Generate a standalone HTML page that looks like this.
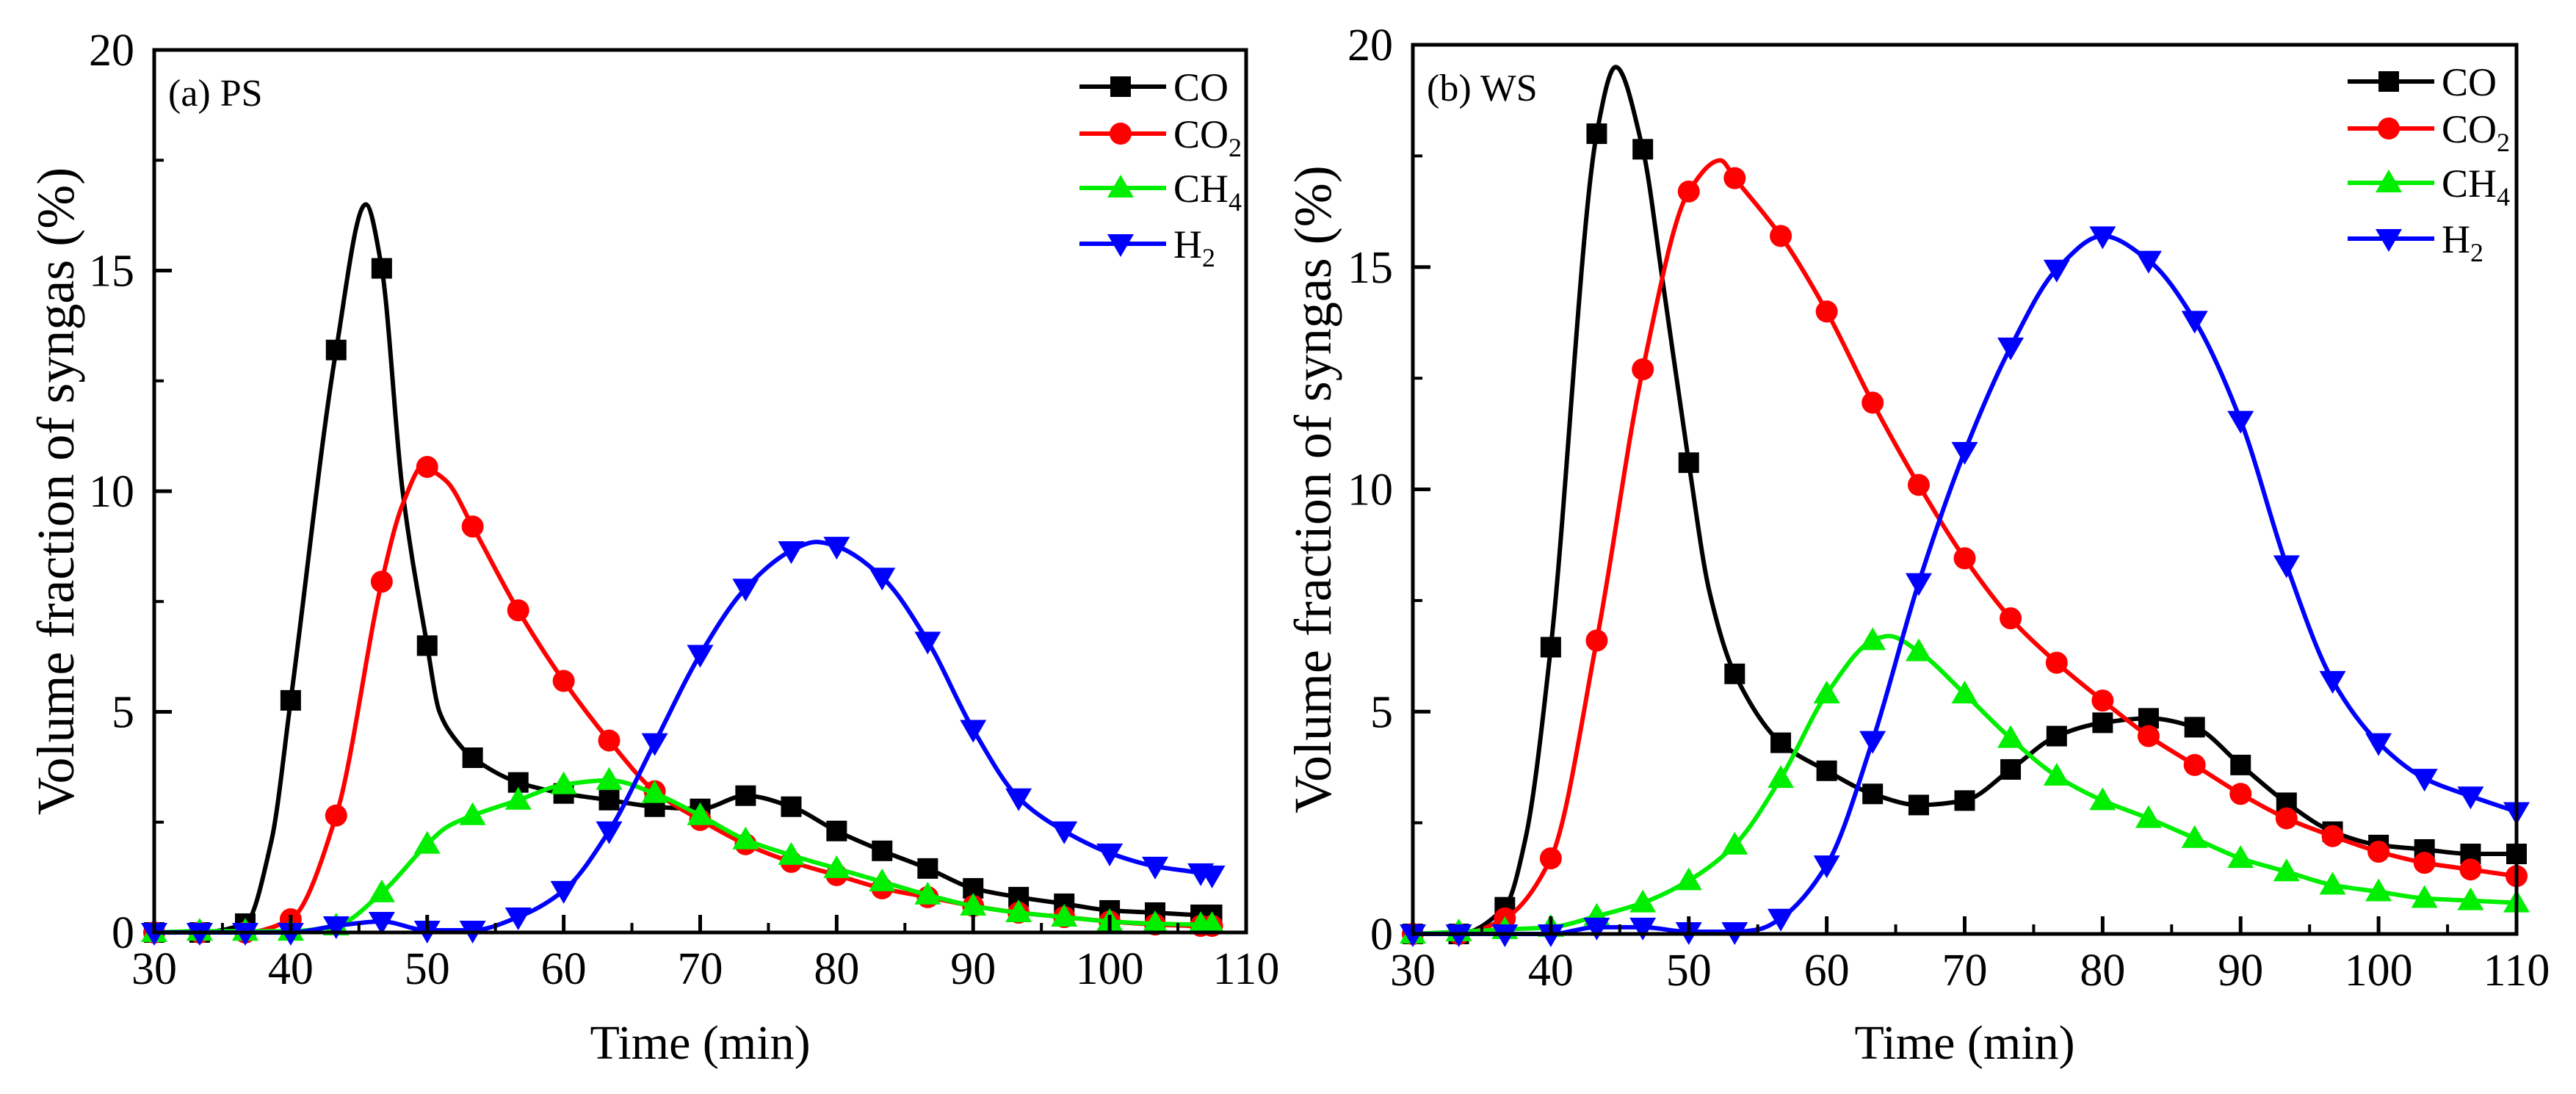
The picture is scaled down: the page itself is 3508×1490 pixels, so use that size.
<!DOCTYPE html>
<html><head><meta charset="utf-8"><style>
html,body{margin:0;padding:0;background:#fff;}
svg{display:block;font-family:"Liberation Serif",serif;}
</style></head><body>
<svg id="chart" width="3508" height="1490" viewBox="0 0 3508 1490" xmlns="http://www.w3.org/2000/svg"></svg>
<script>
// ---- shared marker times ----
const markerTimesA = [30,33.33,36.67,40,43.33,46.67,50,53.33,56.67,60,63.33,66.67,70,73.33,76.67,80,83.33,86.67,90,93.33,96.67,100,103.33,106.67,107.5];
const markerTimesB = [30,33.33,36.67,40,43.33,46.67,50,53.33,56.67,60,63.33,66.67,70,73.33,76.67,80,83.33,86.67,90,93.33,96.67,100,103.33,106.67,110];
// ---- panel (a) PS values at marker times ----
const coA  = [0,0,0.2,5.26,13.2,15.05,6.5,3.96,3.4,3.15,3.0,2.85,2.8,3.1,2.85,2.3,1.85,1.45,1.0,0.8,0.65,0.5,0.45,0.4,0.4];
const co2A = [0,0,0,0.3,2.65,7.95,10.55,9.2,7.3,5.7,4.35,3.2,2.55,2.0,1.6,1.3,1.0,0.8,0.6,0.45,0.35,0.25,0.18,0.15,0.15];
const ch4A = [0,0.03,0.03,0.03,0.15,0.9,2.0,2.65,3.0,3.35,3.45,3.15,2.65,2.1,1.75,1.45,1.15,0.85,0.6,0.45,0.35,0.25,0.2,0.18,0.18];
const h2A  = [0,0,0,0,0.15,0.25,0.05,0.05,0.35,0.95,2.3,4.3,6.3,7.8,8.65,8.75,8.05,6.6,4.6,3.05,2.3,1.8,1.5,1.35,1.3];
// extra (unmarked) curve points, panel (a)
const coAextT = [38.6,45.5,48.2,50.9,52.0];  const coAextV = [2.1,16.5,10.0,5.0,4.4];
const co2AextT = [48.2,49.8,51.5];           const co2AextV = [9.7,10.6,10.2];
const ch4AextT = [51.5];                     const ch4AextV = [2.4];
const h2AextT = [78.5];                      const h2AextV = [8.85];
// ---- panel (b) WS values at marker times ----
const coB  = [0,0,0.6,6.45,18.0,17.65,10.6,5.85,4.3,3.67,3.15,2.9,3.0,3.7,4.45,4.75,4.85,4.65,3.8,2.95,2.3,2.0,1.9,1.8,1.8];
const co2B = [0,0,0.35,1.7,6.6,12.7,16.7,17.0,15.7,14.0,11.95,10.1,8.45,7.1,6.1,5.25,4.45,3.8,3.15,2.6,2.2,1.85,1.6,1.45,1.3];
const ch4B = [0,0.05,0.1,0.15,0.4,0.7,1.2,2.0,3.5,5.4,6.6,6.35,5.4,4.4,3.55,3.0,2.6,2.15,1.7,1.4,1.1,0.95,0.8,0.75,0.7];
const h2B  = [0,0,0,0,0.15,0.15,0.05,0.05,0.35,1.55,4.35,7.9,10.85,13.2,14.95,15.7,15.15,13.8,11.55,8.3,5.7,4.3,3.5,3.1,2.75];
const coBextT = [38.2,44.7,48.1,51.5];       const coBextV = [2.2,19.5,14.7,7.7];
const co2BextT = [52.3];                     const co2BextV = [17.4];
const ch4BextT = [64.5];                     const ch4BextV = [6.7];
const h2BextT = [55.0];                      const h2BextV = [0.1];
// ---- axes ----
const xTicks = [30,40,50,60,70,80,90,100,110];
const yTicks = [0,5,10,15,20];

const NS="http://www.w3.org/2000/svg";
const svg=document.getElementById('chart');
function mk(tag,attrs,parent){const e=document.createElementNS(NS,tag);for(const k in attrs)e.setAttribute(k,attrs[k]);(parent||svg).appendChild(e);return e;}

function monotonePath(pts,sx,sy){
  const n=pts.length; const xs=pts.map(p=>sx(p[0])), ys=pts.map(p=>sy(p[1]));
  const d=[],m=[];
  for(let i=0;i<n-1;i++) d.push((ys[i+1]-ys[i])/(xs[i+1]-xs[i]));
  m[0]=d[0]; m[n-1]=d[n-2];
  for(let i=1;i<n-1;i++){ if(d[i-1]*d[i]<=0) m[i]=0; else { m[i]=2/(1/d[i-1]+1/d[i]); } }
  let s='M'+xs[0].toFixed(1)+','+ys[0].toFixed(1);
  for(let i=0;i<n-1;i++){const h=xs[i+1]-xs[i];
    s+=' C'+(xs[i]+h/3).toFixed(1)+','+(ys[i]+m[i]*h/3).toFixed(1)+' '+(xs[i+1]-h/3).toFixed(1)+','+(ys[i+1]-m[i+1]*h/3).toFixed(1)+' '+xs[i+1].toFixed(1)+','+ys[i+1].toFixed(1);}
  return s;
}

function drawMarker(g,shape,x,y,color){
  let e;
  if(shape==='square'){ e=mk('rect',{x:x-14,y:y-14,width:28,height:28,fill:color},g); }
  else if(shape==='circle'){ e=mk('circle',{cx:x,cy:y,r:15,fill:color},g); }
  else if(shape==='up'){ e=mk('polygon',{points:`${x},${y-18} ${x+18},${y+13} ${x-18},${y+13}`,fill:color},g); }
  else { e=mk('polygon',{points:`${x},${y+18} ${x+18},${y-13} ${x-18},${y-13}`,fill:color},g); }
  return e;
}

function panel(cfg){
  const {L,R,T,B}=cfg;
  const sx=v=>L+(v-30)/80*(R-L), sy=v=>B-v/20*(B-T);
  const g=mk('g',{});
  
  
  cfg.series.forEach(s=>{
    const pts=s.t.map((t,i)=>[t,s.v[i]]).concat(s.et.map((t,i)=>[t,s.ev[i]])).sort((a,b)=>a[0]-b[0]);
    const sg=mk('g',{},g);
    
    
    const p=mk('path',{d:monotonePath(pts,sx,sy),fill:'none',stroke:s.color,'stroke-width':6,'stroke-linejoin':'round'},sg);
    
    
    s.t.forEach((t,i)=>{const m=drawMarker(sg,s.shape,sx(t),sy(s.v[i]),s.color);
      
      });
  });
  const fr=mk('rect',{x:L,y:T,width:R-L,height:B-T,fill:'none',stroke:'#000','stroke-width':5},g);
  
  
  xTicks.forEach((v,i)=>{const x=sx(v);
    mk('line',{x1:x,y1:B,x2:x,y2:B-24,stroke:'#000','stroke-width':5},g);
    if(i<xTicks.length-1){const xm=sx(v+5);mk('line',{x1:xm,y1:B,x2:xm,y2:B-13,stroke:'#000','stroke-width':4},g);}
    const t=mk('text',{x:x,y:B+70,'font-size':62,'text-anchor':'middle',fill:'#000'},g);t.textContent=v;
    
    });
  yTicks.forEach((v,i)=>{const y=sy(v);
    mk('line',{x1:L,y1:y,x2:L+24,y2:y,stroke:'#000','stroke-width':5},g);
    if(i<yTicks.length-1){const ym=sy(v+2.5);mk('line',{x1:L,y1:ym,x2:L+13,y2:ym,stroke:'#000','stroke-width':4},g);}
    const t=mk('text',{x:L-27,y:y+21,'font-size':62,'text-anchor':'end',fill:'#000'},g);t.textContent=v;
    
    });
  const xt=mk('text',{x:(L+R)/2,y:1442,'font-size':66,'text-anchor':'middle',fill:'#000'},g);xt.textContent='Time (min)';
  
  
  const yt=mk('text',{x:0,y:0,'font-size':72,'text-anchor':'middle',fill:'#000',transform:`translate(${cfg.ytx},${(T+B)/2}) rotate(-90)`},g);yt.textContent='Volume fraction of syngas (%)';
  
  
  const pl=mk('text',{x:L+19,y:T+76,'font-size':52,fill:'#000'},g);pl.textContent=cfg.label;
  
  
  const lg=mk('g',{},g);
  
  
  const ly=[T+50,T+114,T+188,T+264];
  cfg.series.forEach((s,i)=>{const y=ly[i];
    const e=mk('g',{},lg);
    
    
    mk('line',{x1:cfg.lx,y1:y,x2:cfg.lx+118,y2:y,stroke:s.color,'stroke-width':6},e);
    drawMarker(e,s.shape,cfg.lx+56,y,s.color);
    const t=mk('text',{x:cfg.lx+128,y:y+19,'font-size':54,fill:'#000'},e);
    t.textContent=s.base;
    if(s.sub){const ts=mk('tspan',{'font-size':36,dy:12},t);ts.textContent=s.sub;}
  });
}

panel({name:'panel-a-ps',label:'(a) PS',L:210,R:1697,T:68,B:1270,ytx:100,lx:1470,series:[
  {key:'co',base:'CO',sub:'',color:'#000',shape:'square',t:markerTimesA,v:coA,et:coAextT,ev:coAextV},
  {key:'co2',base:'CO',sub:'2',color:'#ff0000',shape:'circle',t:markerTimesA,v:co2A,et:co2AextT,ev:co2AextV},
  {key:'ch4',base:'CH',sub:'4',color:'#00ee00',shape:'up',t:markerTimesA,v:ch4A,et:ch4AextT,ev:ch4AextV},
  {key:'h2',base:'H',sub:'2',color:'#0000ff',shape:'down',t:markerTimesA,v:h2A,et:h2AextT,ev:h2AextV}]});
panel({name:'panel-b-ws',label:'(b) WS',L:1924,R:3427,T:61,B:1272,ytx:1812,lx:3197,series:[
  {key:'co',base:'CO',sub:'',color:'#000',shape:'square',t:markerTimesB,v:coB,et:coBextT,ev:coBextV},
  {key:'co2',base:'CO',sub:'2',color:'#ff0000',shape:'circle',t:markerTimesB,v:co2B,et:co2BextT,ev:co2BextV},
  {key:'ch4',base:'CH',sub:'4',color:'#00ee00',shape:'up',t:markerTimesB,v:ch4B,et:ch4BextT,ev:ch4BextV},
  {key:'h2',base:'H',sub:'2',color:'#0000ff',shape:'down',t:markerTimesB,v:h2B,et:h2BextT,ev:h2BextV}]});
</script>
</body></html>
